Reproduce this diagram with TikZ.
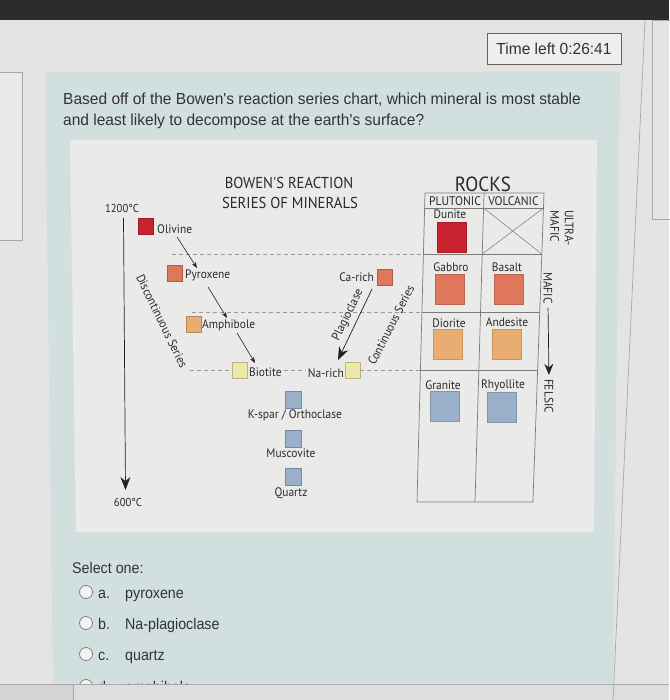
\documentclass[tikz,border=0pt]{standalone}
\usepackage{fontspec}
\usetikzlibrary{arrows.meta}
\newfontfamily\uifont[FakeStretch=0.92]{Liberation Sans}
\newfontfamily\qfont[FakeStretch=0.97]{Liberation Sans}
\newfontfamily\timefont[FakeStretch=0.97]{Liberation Sans}
\newfontfamily\chartfont[FakeStretch=0.93]{PT Sans}
\definecolor{bgc}{HTML}{E4E4E2}
\definecolor{topbar}{HTML}{2C2C2E}
\definecolor{bluepanel}{HTML}{D2DFDF}
\definecolor{chartbg}{HTML}{EAEAE8}
\definecolor{uitext}{HTML}{333333}
\definecolor{charttext}{HTML}{2A2A2A}
\definecolor{olivred}{HTML}{C8222E}
\definecolor{salmon}{HTML}{DF775D}
\definecolor{amber}{HTML}{E9AD72}
\definecolor{paleyel}{HTML}{EEE7AA}
\definecolor{slate}{HTML}{9AAFC9}
\definecolor{tablegray}{HTML}{7A7A7A}
\definecolor{dashgray}{HTML}{9A9A9A}
\definecolor{arrowc}{HTML}{222222}
\definecolor{framegray}{HTML}{A8A8A8}
\definecolor{timerborder}{HTML}{6E5E5E}
\definecolor{timerfill}{HTML}{EFEDED}
\definecolor{radiob}{HTML}{808080}
\definecolor{radiof}{HTML}{F3F3F3}
\definecolor{bottomc}{HTML}{DEDEDC}
\definecolor{bottomleft}{HTML}{D4D4D2}
\definecolor{leftbox}{HTML}{EAEAE8}
\tikzset{
  ui/.style={font={\uifont\fontsize{15.5}{18}\selectfont}, text=uitext, inner sep=0pt},
  qtext/.style={font={\qfont\fontsize{16}{18}\selectfont}, text=uitext, inner sep=0pt},
  ch/.style={font={\chartfont\fontsize{12.3}{14}\selectfont}, text=charttext, inner sep=0pt},
  chbig/.style={font={\chartfont\fontsize{15.8}{18}\selectfont}, text=charttext, inner sep=0pt},
  chsmall/.style={font={\chartfont\fontsize{11.5}{13}\selectfont}, text=charttext, inner sep=0pt},
  chhead/.style={font={\chartfont\fontsize{12.5}{13}\selectfont}, text=charttext, inner sep=0pt},
  mineral/.style={draw=#1!78!black, fill=#1, line width=0.4pt, minimum width=15pt, minimum height=16pt, inner sep=0pt},
  rocksq/.style={fill=#1, draw=#1!85!black, line width=0.3pt, minimum width=29pt, minimum height=30pt, inner sep=0pt},
  tline/.style={draw=tablegray, line width=0.7pt},
  sepdash/.style={draw=dashgray, dash pattern=on 4pt off 3pt, line width=0.6pt},
  flowarrow/.style={-{Stealth[length=6pt,width=4.5pt]}, line width=0.6pt, draw=arrowc},
  bigarrow/.style={-{Stealth[length=13pt,width=10pt]}, line width=0.7pt, draw=arrowc},
  radio/.style={circle, draw=radiob, fill=radiof, minimum size=13pt, inner sep=0pt, line width=0.8pt},
}
\begin{document}
\begin{tikzpicture}[x=1pt,y=-1pt]
\useasboundingbox (0,0) rectangle (669,700);
% page background
\fill[bgc] (0,0) rectangle (669,700);
\fill[topbar] (0,0) rectangle (669,20);
\draw[framegray, fill=leftbox, line width=0.7pt] (-1,72) rectangle (22,240);
\draw[framegray, line width=0.7pt] (652,20) rectangle (671,219);
% question panel
\fill[bluepanel] (45,72) -- (620,72) -- (613,683) -- (53,683) -- cycle;
\fill[chartbg] (70,140) -- (597,140) -- (594,532) -- (76,532) -- cycle;
% timer
\node[draw=timerborder, fill=timerfill, line width=0.8pt, minimum width=134pt, minimum height=31pt, inner sep=0pt,
      font={\timefont\fontsize{16}{19}\selectfont}, text=uitext] (timer) at (554,48.5) {Time left 0:26:41};
% question text
\node[qtext, anchor=base west] (q1) at (63,104.5) {Based off of the Bowen's reaction series chart, which mineral is most stable};
\node[qtext, anchor=base west] (q2) at (63,126) {and least likely to decompose at the earth's surface?};

% ---------- chart ----------
\node[chbig] (title1) at (289,183) {BOWEN'S REACTION};
\node[chbig] (title2) at (290,203) {SERIES OF MINERALS};
\node[chsmall] (t1200) at (122,208) {1200°C};
\node[chsmall] (t600) at (128,502) {600°C};
\coordinate (axtop) at (123.5,218);
\coordinate (axbot) at (125.5,490);
\draw[bigarrow] (axtop) -- (axbot);

% dashed separators
\draw[sepdash] (172,254) -- (423.4,254);
\draw[sepdash] (192,312) -- (421.9,312);

% discontinuous series
\node[mineral=olivred] (ol) at (146,226) {};
\node[ch, anchor=west] (oll) at (157,229) {Olivine};
\node[mineral=salmon] (py) at (174.5,273) {};
\node[ch, anchor=west] (pyl) at (185,275) {Pyroxene};
\node[mineral=amber] (am) at (193.5,324.5) {};
\node[ch, anchor=west] (aml) at (202,325) {Amphibole};
\node[mineral=paleyel] (bi) at (240,370.5) {};
\node[ch, anchor=west] (bil) at (249,372) {Biotite};

\coordinate (a1s) at (177,237);  \coordinate (a1e) at (197,268);
\coordinate (a2s) at (208,287);  \coordinate (a2e) at (227,318);
\coordinate (a3s) at (237,333);  \coordinate (a3e) at (255,363);
\draw[flowarrow] (a1s) -- (a1e);
\draw[flowarrow] (a2s) -- (a2e);
\draw[flowarrow] (a3s) -- (a3e);

\node[ch, rotate=-64] (disc) at (162,321) {Discontinuous Series};

% continuous series
\node[mineral=salmon] (ca) at (385,277.5) {};
\node[ch, anchor=east] (cal) at (374,277) {Ca-rich};
\node[mineral=paleyel] (na) at (352.5,370.5) {};
\node[ch, anchor=east] (nal) at (344,373) {Na-rich};
\coordinate (plgs) at (372,289);
\coordinate (plge) at (338,360);
\draw[bigarrow] (plgs) -- (plge);
\node[ch, rotate=64] (plag) at (348,315) {Plagioclase};
\node[ch, rotate=63] (cont) at (391,325) {Continuous Series};

% third dashed separator (pieces)
\coordinate (d3a) at (190,370);
\coordinate (d3e) at (420.4,370);
\draw[sepdash] (d3a) -- (bi.west |- d3a);
\draw[sepdash] ([xshift=2pt]bil.east |- d3a) -- ([xshift=-2pt]nal.west |- d3a);
\draw[sepdash] (na.east |- d3a) -- (d3e);

% felsic minerals
\node[mineral=slate, minimum width=16pt, minimum height=17pt] (ks) at (293.5,399.5) {};
\node[ch] (ksl) at (295,415) {K-spar / Orthoclase};
\node[mineral=slate, minimum width=16pt, minimum height=17pt] (mu) at (293,438.5) {};
\node[ch] (mul) at (291,453) {Muscovite};
\node[mineral=slate, minimum width=16pt, minimum height=17pt] (qz) at (293,476.5) {};
\node[ch] (qzl) at (291,493) {Quartz};

% ---------- rocks table ----------
\node[font={\chartfont\fontsize{20.5}{22}\selectfont}, text=charttext, inner sep=0pt] (rocks) at (483,184) {ROCKS};
\draw[tline] (425,193) -- (544,193) -- (532.9,502) -- (417,502) -- cycle;
\draw[tline] (484,193) -- (475,502);
\draw[tline] (424.6,208) -- (543.5,208);
\draw[tline] (423.4,254) -- (541.8,254);
\draw[tline] (421.9,312) -- (539.7,312);
\draw[tline] (420.4,370.5) -- (537.6,370.5);
\draw[tline, line width=0.5pt] (483.6,208) -- (541.8,254);
\draw[tline, line width=0.5pt] (543.5,208) -- (482.2,254);
\node[chhead] (plut) at (455,201) {PLUTONIC};
\node[chhead] (volc) at (513.5,201) {VOLCANIC};

\node[ch] (dunl) at (450,214) {Dunite};
\node[rocksq=olivred] (dun) at (451.5,237) {};
\node[ch] (gabl) at (451,267) {Gabbro};
\node[rocksq=salmon] (gab) at (450,289) {};
\node[ch] (basl) at (507,267) {Basalt};
\node[rocksq=salmon] (bas) at (508.5,289) {};
\node[ch] (diol) at (449,323) {Diorite};
\node[rocksq=amber] (dio) at (448,344.5) {};
\node[ch] (andl) at (507,322) {Andesite};
\node[rocksq=amber] (and) at (506.5,344) {};
\node[ch] (gral) at (443,385) {Granite};
\node[rocksq=slate] (gra) at (445,406.5) {};
\node[ch] (rhyl) at (503,385) {Rhyollite};
\node[rocksq=slate] (rhy) at (502,407) {};

% right side labels
\node[ch, rotate=-90, align=left, font={\chartfont\fontsize{12.3}{14.5}\selectfont}] (ultra) at (562,228) {ULTRA-\\MAFIC};
\node[ch, rotate=-90] (mafic) at (548,288) {MAFIC};
\node[ch, rotate=-90] (felsic) at (549,396) {FELSIC};
\draw[-{Stealth[length=11pt,width=9pt]}, line width=0.7pt, draw=arrowc, shorten <=4pt, shorten >=4pt] (mafic.east) -- (felsic.west);

% ---------- answers ----------
\node[ui, anchor=base west] (sel) at (72,573) {Select one:};
\node[radio] (ra) at (86,592) {};
\node[ui, anchor=base west] (la) at (98,598) {a.};
\node[ui, anchor=base west] (ta) at (125,598) {pyroxene};
\node[radio] (rb) at (86,623) {};
\node[ui, anchor=base west] (lb) at (98,629) {b.};
\node[ui, anchor=base west] (tb) at (125,629) {Na-plagioclase};
\node[radio] (rc) at (86,654) {};
\node[ui, anchor=base west] (lc) at (98,660) {c.};
\node[ui, anchor=base west] (tc) at (125,660) {quartz};
\node[radio] (rd) at (86,686) {};
\node[ui, anchor=base west] (ld) at (98,692) {d.};
\node[ui, anchor=base west] (td) at (125,692) {amphibole};

% bottom strip covering the cut-off option
\fill[bottomc] (0,684) rectangle (669,700);
\fill[bottomleft] (0,684) rectangle (73,700);
\draw[framegray, line width=0.8pt] (0,684) -- (669,684);
\draw[framegray, line width=0.8pt] (73,684) -- (73,700);
\draw[framegray, line width=0.7pt] (645,20) -- (613,700);
\end{tikzpicture}
\end{document}
